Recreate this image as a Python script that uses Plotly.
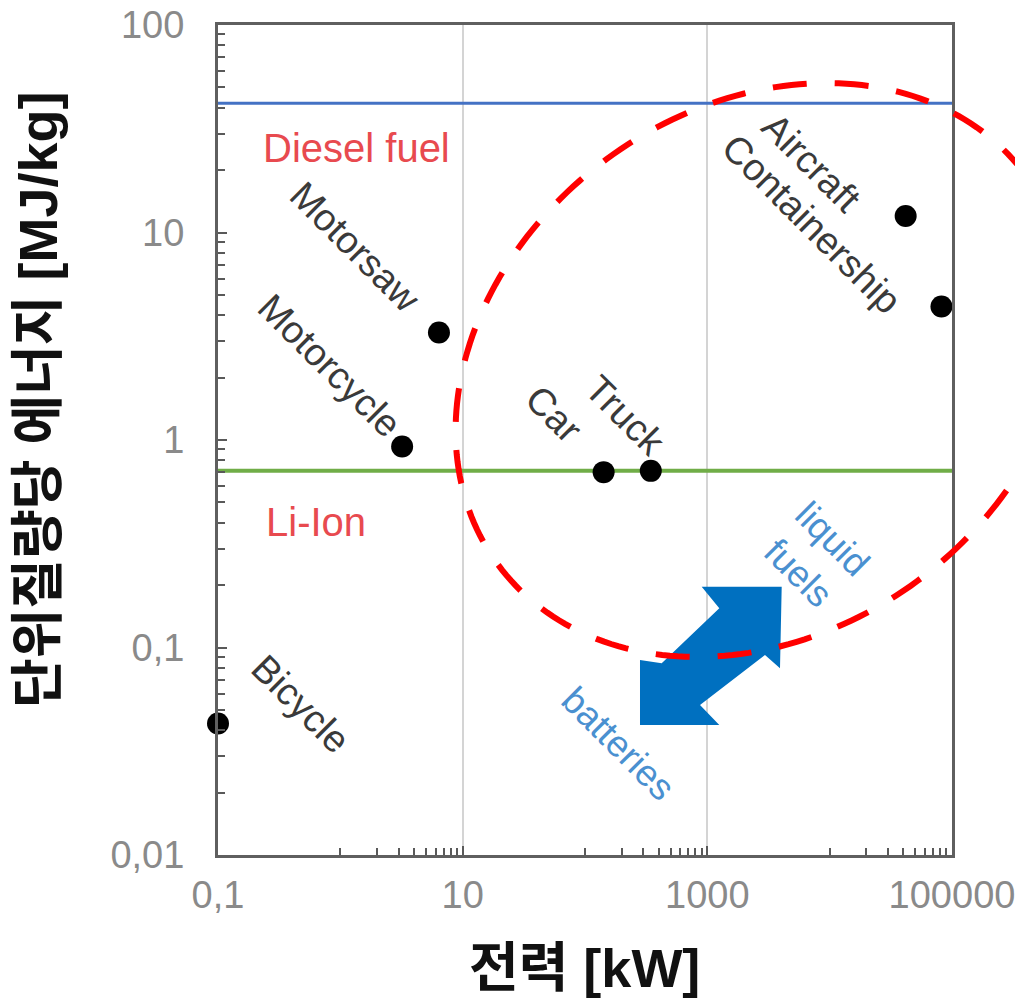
import numpy as np
import plotly.graph_objects as go

# ---------------- data ----------------
vehicles = ["Bicycle", "Motorcycle", "Motorsaw", "Car", "Truck", "Aircraft", "Containership"]
power_kw = [0.1, 3.2, 6.4, 142, 345, 41800, 82000]
energy_mj_kg = [0.043, 0.93, 3.3, 0.70, 0.71, 12.0, 4.4]

diesel_level = 42.0
liion_level = 0.71
x_range_vals = [0.1, 100000]

x_tickvals = [0.1, 10, 1000, 100000]
x_ticktext = ["0,1", "10", "1000", "100000"]
y_tickvals = [0.01, 0.1, 1, 10, 100]
y_ticktext = ["0,01", "0,1", "1", "10", "100"]

x_title = "<b>전력 [kW]</b>"
y_title = "<b>단위질량당 에너지 [MJ/kg]</b>"

# label offsets (pixels) relative to markers
label_dx = [83, -72, -84, -50, -25, -94, -130]
label_dy = [20, 81, 85, 58, 55, 53, 82]

# ---------------- geometry ----------------
OFF = 8  # page body margin of the html page
W, H = 1023 - OFF, 1001 - OFF
ML, MR, MT, MB = 218 - OFF, 71, 25 - OFF, 146
PW, PH = W - ML - MR, H - MT - MB


def to_paper(px, py):
    """screen pixel (as seen in the page) -> paper coords"""
    return (px - OFF - ML) / PW, (H - MB - (py - OFF)) / PH


x_minor = [d * m for d in (1, 100, 10000) for m in range(1, 10)]
y_minor = [d * m for d in (0.01, 0.1, 1, 10) for m in range(2, 10)]

fig = go.Figure()

# reference lines
fig.add_trace(go.Scatter(x=x_range_vals, y=[diesel_level] * 2, mode="lines",
                         line=dict(color="#4472c4", width=3), showlegend=False,
                         hoverinfo="skip"))
fig.add_trace(go.Scatter(x=x_range_vals, y=[liion_level] * 2, mode="lines",
                         line=dict(color="#70ad47", width=4), showlegend=False,
                         hoverinfo="skip"))

# points
fig.add_trace(go.Scatter(x=power_kw, y=energy_mj_kg, mode="markers",
                         marker=dict(color="black", size=22), showlegend=False,
                         cliponaxis=False))

label_font = dict(family="Liberation Sans, Arial, sans-serif", size=38, color="#3a3a3a")
for name, xv, yv, dx, dy in zip(vehicles, power_kw, energy_mj_kg, label_dx, label_dy):
    fig.add_annotation(x=np.log10(xv), y=np.log10(yv), xref="x", yref="y",
                       text=name, showarrow=False, textangle=45,
                       xshift=dx, yshift=dy, font=label_font)

red_font = dict(family="Liberation Sans, Arial, sans-serif", size=40, color="#e84a4f")
fig.add_annotation(x=0.136, y=1.407, xref="x", yref="y", text="Diesel fuel",
                   showarrow=False, font=red_font)
fig.add_annotation(x=-0.199, y=-0.395, xref="x", yref="y", text="Li-Ion",
                   showarrow=False, font=red_font)

blue_font = dict(family="Liberation Sans, Arial, sans-serif", size=37, color="#4a90d0")
fig.add_annotation(x=2.268, y=-1.465, xref="x", yref="y", text="batteries",
                   showarrow=False, textangle=45, font=blue_font)
fig.add_annotation(x=3.877, y=-0.559, xref="x", yref="y", text="liquid<br>fuels",
                   showarrow=False, textangle=45, font=blue_font, align="center")

# double arrow (outline in screen pixels -> paper coords)
arrow_px = [(701.7, 586.7), (781.7, 586.7), (780, 668.3), (765, 655), (700, 705),
            (719.3, 725), (640, 725), (640, 660), (661.7, 663.3), (719.3, 608.3)]
pts = [to_paper(*p) for p in arrow_px]
path = "M " + " L ".join(f"{a:.5f},{b:.5f}" for a, b in pts) + " Z"
fig.add_shape(type="path", path=path, xref="paper", yref="paper",
              fillcolor="#0070c0", line=dict(width=0), layer="above")

# dashed red ellipse (tilted)
cx, cy = 762, 370
a_ax, b_ax, th = 328, 262, np.deg2rad(36.4)
t = np.linspace(0, 2 * np.pi, 241)
ex = cx + a_ax * np.cos(t) * np.cos(th) - b_ax * np.sin(t) * np.sin(th)
ey = cy - (a_ax * np.cos(t) * np.sin(th) + b_ax * np.sin(t) * np.cos(th))
epts = [to_paper(x, y) for x, y in zip(ex, ey)]
epath = "M " + " L ".join(f"{a:.5f},{b:.5f}" for a, b in epts) + " Z"
fig.add_shape(type="path", path=epath, xref="paper", yref="paper",
              line=dict(color="#ff0000", width=6, dash="34px,28px"), layer="above")

# axis titles
title_font = dict(family="Liberation Sans, Noto Sans CJK KR", size=54, color="#111111")
fig.add_annotation(x=to_paper(584, 0)[0], y=to_paper(0, 968)[1], xref="paper", yref="paper",
                   text=x_title, showarrow=False, xanchor="center", yanchor="middle",
                   font=title_font)
fig.add_annotation(x=to_paper(38, 0)[0], y=to_paper(0, 400)[1], xref="paper", yref="paper",
                   text=y_title, showarrow=False, textangle=-90, xanchor="center", yanchor="middle",
                   font=title_font)

tick_font = dict(family="Liberation Sans, Arial, sans-serif", size=38, color="#8a8a8a")
fig.update_xaxes(type="log", range=[-1, 5], tickmode="array", tickvals=x_tickvals,
                 ticktext=x_ticktext, ticks="inside", ticklen=9, tickwidth=2, tickcolor="#595959",
                 showgrid=True, gridcolor="#d4d4d4", gridwidth=2, zeroline=False,
                 showline=True, linecolor="#5f5f5f", linewidth=3, mirror=True,
                 tickfont=tick_font, ticklabelstandoff=4, automargin=False,
                 ticklabeloverflow="allow",
                 minor=dict(tickmode="array", tickvals=x_minor, ticks="inside", ticklen=7,
                            tickwidth=2, tickcolor="#595959", showgrid=False))
fig.update_yaxes(type="log", range=[-2, 2], tickmode="array", tickvals=y_tickvals,
                 ticktext=y_ticktext, ticks="inside", ticklen=9, tickwidth=2, tickcolor="#595959",
                 showgrid=False, zeroline=False,
                 showline=True, linecolor="#5f5f5f", linewidth=3, mirror=True,
                 tickfont=tick_font, ticklabelstandoff=23, automargin=False,
                 ticklabeloverflow="allow",
                 minor=dict(tickmode="array", tickvals=y_minor, ticks="inside", ticklen=7,
                            tickwidth=2, tickcolor="#595959", showgrid=False))

fig.update_layout(width=W, height=H, margin=dict(l=ML, r=MR, t=MT, b=MB, autoexpand=False),
                  plot_bgcolor="white", paper_bgcolor="white", showlegend=False)

fig.write_html("out.html")
